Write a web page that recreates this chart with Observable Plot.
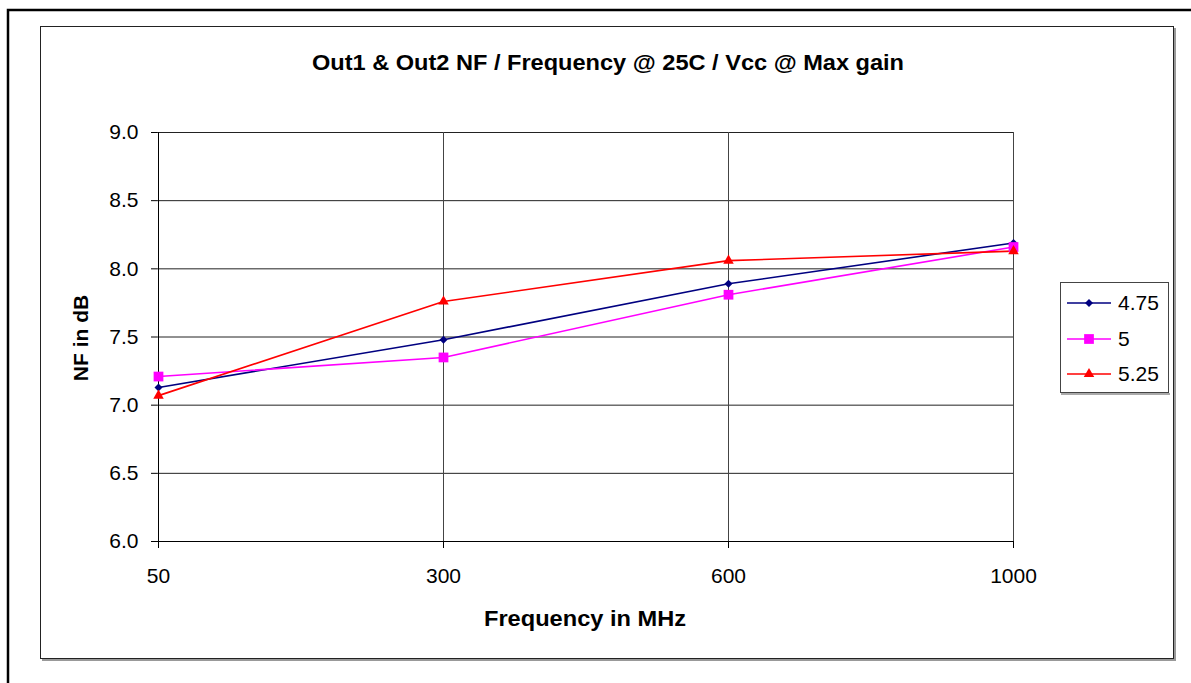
<!DOCTYPE html>
<html>
<head>
<meta charset="utf-8">
<script src="https://cdn.jsdelivr.net/npm/d3@7"></script>
<script src="https://cdn.jsdelivr.net/npm/@observablehq/plot@0.6"></script>
<style>
  html, body { margin: 0; padding: 0; background: #fff; }
  #chart { position: relative; width: 1191px; height: 683px; overflow: hidden; }
  svg { display: block; }
</style>
</head>
<body>
<div id="chart"></div>
<script>
const frequencies = ["50", "300", "600", "1000"];
const seriesNames = ["4.75", "5", "5.25"];
const nf475 = [7.13, 7.48, 7.89, 8.19];
const nf5 = [7.21, 7.35, 7.81, 8.16];
const nf525 = [7.07, 7.76, 8.06, 8.13];
const yTicks = [6.0, 6.5, 7.0, 7.5, 8.0, 8.5, 9.0];
const titleText = "Out1 & Out2 NF / Frequency @ 25C / Vcc @ Max gain";
const xLabelText = "Frequency in MHz";
const yLabelText = "NF in dB";

const seriesColors = ["#000080", "#FF00FF", "#FF0000"];
const seriesSymbols = ["diamond2", "square", "triangle"];
const seriesR = [3.6, 5.5, 3.9];

const values = [nf475, nf5, nf525];
const rows = seriesNames.flatMap((s, i) =>
  frequencies.map((f, j) => ({series: s, freq: f, nf: values[i][j]}))
);

const W = 1191, H = 683;
const mL = 157, mR = W - 1013, mT = 132, mB = H - 541;

const marks = [
  Plot.gridY(yTicks.filter(v => v > 6), {stroke: "#222", strokeOpacity: 1, strokeWidth: 1}),
  Plot.gridX(frequencies, {stroke: "#444", strokeOpacity: 1, strokeWidth: 1}),
  Plot.ruleY([6], {stroke: "#000", strokeWidth: 1}),
  Plot.ruleX([frequencies[0]], {stroke: "#000", strokeWidth: 1}),
  Plot.axisY({ticks: yTicks, tickFormat: d3.format(".1f"), tickSize: 6, tickPadding: 13, label: null, fontSize: 21, stroke: "#000"}),
  Plot.axisX({tickSize: 7, tickPadding: 20, label: null, fontSize: 21, stroke: "#000"})
];
seriesNames.forEach((s, i) => {
  const d = rows.filter(r => r.series === s);
  marks.push(Plot.line(d, {x: "freq", y: "nf", stroke: seriesColors[i], strokeWidth: 1.6}));
});
seriesNames.forEach((s, i) => {
  const d = rows.filter(r => r.series === s);
  marks.push(Plot.dot(d, {x: "freq", y: "nf", fill: seriesColors[i], stroke: "none", symbol: seriesSymbols[i], r: seriesR[i]}));
});

const chart = Plot.plot({
  width: W,
  height: H,
  marginLeft: mL,
  marginRight: mR,
  marginTop: mT,
  marginBottom: mB,
  style: {fontFamily: "'Liberation Sans', Arial, sans-serif", fontSize: "21px", color: "#000", background: "#fff"},
  x: {type: "point", domain: frequencies, padding: 0},
  y: {domain: [6, 9]},
  marks
});
document.getElementById("chart").appendChild(chart);

const svg = d3.select(chart);
// outer border (only top and left visible)
svg.insert("rect", ":first-child")
  .attr("x", 8).attr("y", 10).attr("width", 1300).attr("height", 800)
  .attr("fill", "none").attr("stroke", "#000").attr("stroke-width", 2.5);
// inner chart area box with slight shadow
svg.append("path")
  .attr("d", "M1175,28 V660 H42")
  .attr("fill", "none").attr("stroke", "#999").attr("stroke-width", 2);
svg.append("rect")
  .attr("x", 40.5).attr("y", 26.5).attr("width", 1133).attr("height", 632)
  .attr("fill", "none").attr("stroke", "#222").attr("stroke-width", 1);

// title
svg.append("text")
  .attr("x", 608).attr("y", 70)
  .attr("text-anchor", "middle")
  .attr("font-weight", "bold").attr("font-size", 22)
  .attr("textLength", 592).attr("lengthAdjust", "spacingAndGlyphs")
  .text(titleText);
// x label
svg.append("text")
  .attr("x", 585).attr("y", 626)
  .attr("text-anchor", "middle")
  .attr("font-weight", "bold").attr("font-size", 22)
  .attr("textLength", 202).attr("lengthAdjust", "spacingAndGlyphs")
  .text(xLabelText);
// y label
svg.append("text")
  .attr("transform", "translate(88,338) rotate(-90)")
  .attr("text-anchor", "middle")
  .attr("font-weight", "bold").attr("font-size", 21)
  .text(yLabelText);

// legend
const lg = svg.append("g").attr("text-anchor", "start");
lg.append("path").attr("d", "M1062,284 V394 H1170").attr("fill", "none").attr("stroke", "#aaa").attr("stroke-width", 2);
lg.append("rect").attr("x", 1060.5).attr("y", 282.5).attr("width", 108).attr("height", 110)
  .attr("fill", "#fff").attr("stroke", "#444").attr("stroke-width", 1);
const legendY = [303, 339, 374];
seriesNames.forEach((s, i) => {
  const y = legendY[i];
  lg.append("line").attr("x1", 1067).attr("x2", 1111).attr("y1", y).attr("y2", y)
    .attr("stroke", seriesColors[i]).attr("stroke-width", 1.6);
  const sym = {diamond2: d3.symbolDiamond2, square: d3.symbolSquare, triangle: d3.symbolTriangle}[seriesSymbols[i]];
  lg.append("path").attr("d", d3.symbol(sym, Math.PI * seriesR[i] * seriesR[i])())
    .attr("transform", `translate(1089,${y})`).attr("fill", seriesColors[i]);
  lg.append("text").attr("x", 1118).attr("y", y).attr("dy", "0.35em")
    .attr("text-anchor", "start").attr("font-size", 21).text(s);
});
</script>
</body>
</html>
